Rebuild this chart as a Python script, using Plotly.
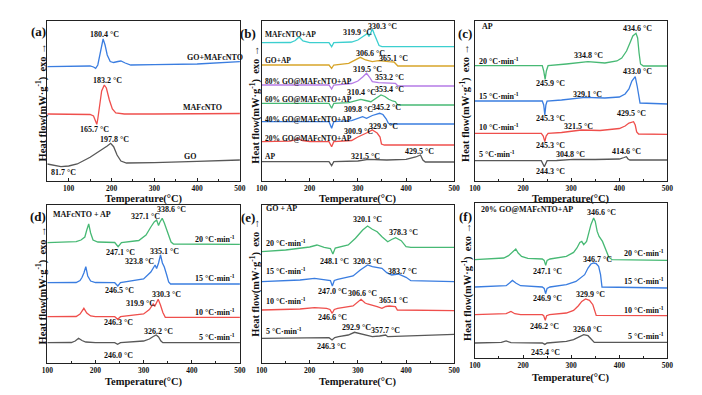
import plotly.graph_objects as go

# ---------------- data (temperature in °C, heat flow in arbitrary offset units) ----------------
# Panel (a)
A_GO_T = [50, 65, 82, 100, 120, 150, 175, 190, 198, 205, 213, 222, 235, 300, 400, 500]
A_GO_H = [17, 15.5, 14.3, 15, 17, 23.7, 30.3, 35, 37.7, 34.3, 26, 20, 18, 18.3, 19.7, 21]
A_MAF_T = [50, 100, 150, 158, 163, 165.7, 168, 172, 177, 183.2, 188, 195, 202, 210, 230, 300, 400, 500]
A_MAF_H = [67, 67, 66.5, 65, 60, 56.7, 62, 76, 90, 96, 93, 81, 72, 68, 67, 67, 67.3, 67.5]
A_GOMAF_T = [50, 100, 150, 158, 163, 168, 174, 180.4, 185, 190, 197, 205, 215, 222, 232, 245, 300, 400, 500]
A_GOMAF_H = [114.3, 114.5, 115, 114, 112.7, 116, 128, 142, 136, 126, 119.5, 118.5, 119.5, 120, 118, 116, 116.3, 117, 119.3]

# Panel (b)
B_AP_T = [100, 200, 240, 245.5, 250, 300, 321.5, 360, 400, 420, 430, 435, 440, 500]
B_AP_H = [19.3, 19.3, 19.3, 15.3, 19.3, 20, 21.7, 21, 21.7, 24, 26, 21, 19, 19]
B_20_T = [100, 160, 168, 175, 185, 200, 240, 245.5, 250, 287, 300, 310, 320, 329.9, 340, 346, 349, 355, 500]
B_20_H = [39.3, 39.8, 41, 42.5, 40.5, 39.5, 39.3, 34.3, 39.3, 40.5, 44, 46, 48.5, 51, 48, 44, 37, 36, 36]
B_40_T = [100, 200, 240, 245.5, 250, 287, 300, 309.8, 318, 330, 345.2, 352, 359, 363, 366, 375, 500]
B_40_H = [59.3, 59.3, 59.3, 52.7, 59.3, 60.3, 62.5, 64.3, 62.7, 65.5, 67.7, 66.5, 62, 58, 57, 57, 57]
B_60_T = [100, 200, 240, 245.5, 250, 281, 295, 306, 316, 327, 340, 348, 356, 364, 372, 378, 381, 384, 500]
B_60_H = [77.7, 77.7, 77.7, 72.7, 77.7, 78.3, 80, 81.7, 80.5, 79.3, 83.5, 86, 84.5, 81.7, 80, 79.3, 77, 76, 76]
B_80_T = [100, 200, 240, 245.5, 250, 287, 300, 310, 318, 324, 330, 343, 360, 378, 383, 500]
B_80_H = [96, 96, 96, 92, 96, 97.5, 100, 104, 107.7, 104, 99.3, 98.3, 98, 97.7, 95, 95]
B_GOAP_T = [100, 200, 240, 245.5, 250, 281, 295, 305, 316, 330, 343, 355, 364, 375, 380, 383, 500]
B_GOAP_H = [116, 116, 116, 112.7, 116, 117.7, 121, 123.7, 121, 119.3, 120.3, 119.5, 119.3, 119, 117, 115, 115]
B_MAFAP_T = [100, 160, 170, 178, 186, 200, 240, 245.5, 250, 287, 300, 310, 316.5, 319.9, 323, 326, 330.3, 334, 337, 341, 344, 350, 500]
B_MAFAP_H = [138.3, 138.5, 140.5, 144, 140, 138.3, 138.3, 134.3, 138.3, 139, 141, 144, 146, 147.5, 144.5, 148, 151.7, 147, 144, 139, 135.5, 134.3, 134.3]

# Panel (c)
C5_T = [100, 200, 238, 244.3, 250, 270, 304.8, 350, 400, 410, 414.6, 418, 422, 500]
C5_H = [20.3, 20.3, 20.3, 14.3, 20.3, 20.5, 21.7, 21.5, 22, 23.5, 24.3, 22, 21, 21]
C10_T = [100, 200, 238, 242, 245.3, 248, 252, 280, 321.5, 360, 400, 412, 420, 429.5, 433, 436, 440, 500]
C10_H = [47.7, 47.7, 47.7, 45, 39.3, 45, 47.7, 48.5, 51, 50.5, 52.5, 55, 58, 59.3, 56, 49, 47, 46.7]
C15_T = [100, 200, 240, 243, 245.3, 247.5, 250, 280, 329.1, 370, 400, 412, 420, 426, 433, 437, 440, 443, 500]
C15_H = [80, 80, 80, 76, 66, 76, 80, 81, 83.7, 83, 84, 87, 92, 100, 104.3, 95, 85, 78, 77]
C20_T = [100, 200, 240, 243, 245.9, 248.5, 252, 290, 334.8, 370, 395, 405, 415, 422, 428, 434.6, 438, 441, 444, 450, 500]
C20_H = [115.3, 115.3, 115.3, 110, 101.7, 110, 115.3, 117, 119.3, 118, 120, 123, 130, 138, 145, 147.7, 143, 128, 117, 115, 115]

# Panel (d)
D5_T = [100, 150, 158, 165, 172, 180, 200, 240, 246, 252, 300, 312, 320, 326.2, 331, 336, 340, 500]
D5_H = [20.3, 20.5, 22, 24.7, 22.5, 21, 20.3, 20.3, 18.7, 20.3, 22, 24, 26.5, 28, 26, 22, 20.3, 20.3]
D10_T = [100, 160, 168, 176, 182, 190, 200, 240, 246.3, 252, 300, 312, 319.9, 323, 326, 330.3, 335, 340, 345, 500]
D10_H = [46.3, 46.5, 49, 54.7, 50, 47, 46.3, 46.3, 43.7, 46.3, 49, 53.5, 59, 56.5, 59.5, 63.7, 58, 50.5, 45.7, 45.7]
D15_T = [100, 160, 168, 172, 176, 180, 184, 190, 200, 240, 246.5, 252, 300, 315, 323.8, 327, 331, 335.1, 339, 343, 348, 352, 356, 500]
D15_H = [80.3, 80.5, 82.5, 85.5, 90, 96.3, 87, 82, 80.5, 80.3, 77, 80.3, 84, 91, 98, 94.5, 100, 108, 100, 96, 88, 81, 79, 79]
D20_T = [100, 160, 170, 178, 182, 186, 190, 195, 205, 240, 247.1, 254, 290, 305, 315, 322, 327.1, 331, 334, 338.6, 343, 348, 352, 357, 362, 500]
D20_H = [120.3, 121.3, 123, 126, 133, 139, 130, 123, 121, 120.5, 116.3, 120.5, 122.5, 128, 136, 141, 143, 137.5, 141, 144.7, 140, 133, 126, 121, 119, 118.7]

# Panel (e)
E5_T = [100, 200, 240, 246.3, 252, 260, 280, 292.9, 310, 330, 345, 357.7, 362, 400, 500]
E5_H = [24.7, 25.3, 25.3, 23, 25.5, 26.3, 28, 30.7, 28.7, 26.3, 27, 28, 26.3, 27, 28.7]
E10_T = [100, 180, 210, 235, 242, 246.6, 251, 258, 290, 300, 306.6, 315, 320, 340, 350, 358, 365.1, 378, 382, 500]
E10_H = [53, 54, 55.3, 54.7, 53.5, 49.7, 53.5, 54.7, 57, 61, 63.7, 60, 59, 56.3, 54.7, 56.5, 57, 56.3, 53, 52.3]
E15_T = [100, 180, 210, 230, 243, 247, 251, 258, 290, 305, 320.3, 330, 350, 360, 370, 383.7, 400, 410, 500]
E15_H = [81.3, 83, 84.7, 83.7, 82.5, 77, 82.5, 83.7, 87, 93, 98, 96.3, 94.7, 90.3, 88, 89, 85.7, 82.3, 81.3]
E20_T = [100, 150, 200, 215, 230, 243, 248.1, 253, 280, 295, 310, 320.1, 330, 340, 350, 362, 370, 378.3, 390, 400, 410, 500]
E20_H = [111.3, 113, 116, 118, 115.7, 114.5, 109, 115, 118, 124.7, 133, 137, 133.7, 131.3, 126.3, 121.3, 123.5, 125.3, 122.3, 116.3, 115.7, 115.7]

# Panel (f)
F5_T = [100, 155, 165, 175, 240, 245.4, 250, 290, 305, 315, 326, 335, 342, 348, 500]
F5_H = [15, 15.6, 17, 15.3, 15, 13.6, 15, 16.6, 18.3, 21, 23.3, 22.3, 18.3, 15.6, 15.6]
F10_T = [100, 165, 175, 183, 195, 240, 243, 246.2, 249, 255, 290, 305, 315, 322, 329.9, 338, 345, 349, 352, 500]
F10_H = [43.3, 44.3, 46.6, 44.3, 43.3, 43.3, 42.3, 37.6, 42.3, 43.3, 45, 47.6, 52.3, 56.6, 59, 57.6, 53.3, 46.6, 42.6, 42.3]
F15_T = [100, 165, 172, 178, 185, 195, 240, 244, 246.9, 250, 256, 290, 310, 320, 328, 335, 341, 346.7, 352, 357, 361, 364, 500]
F15_H = [71, 72.3, 75, 77.6, 75, 72.3, 71, 69.6, 64.3, 69.6, 71, 73.3, 76.6, 80, 83.3, 90, 94, 95, 94.3, 91.6, 83.3, 71, 70]
F20_T = [100, 160, 170, 177, 185, 190, 197, 210, 240, 244, 247.1, 250, 256, 290, 305, 312, 318, 322, 326, 332, 337, 341, 346.6, 350, 354, 358, 365, 372, 378, 385, 500]
F20_H = [98.3, 100, 102.3, 105.6, 109, 105, 101.6, 99.6, 99, 97.6, 92.6, 97.6, 99, 101.6, 105.6, 110, 115.6, 116.6, 113.3, 116.6, 125, 133.3, 140, 136.6, 126.6, 121.6, 116.6, 108.3, 101, 98.3, 97.6]

# Peak labels: (text, temperature, height)
A_PEAK_LABELS = [("180.4 °C", 183, 146.7), ("183.2 °C", 191, 100), ("165.7 °C", 160, 51.7),
                 ("197.8 °C", 206, 41.7), ("81.7 °C", 88.5, 8.3)]
A_NAME_LABELS = [("GO+MAFcNTO", 441, 123.7), ("MAFcNTO", 411.5, 73.7), ("GO", 383, 24.3)]
B_PEAK_LABELS = [("330.3 °C", 350.3, 154.5), ("319.9 °C", 299.7, 148.7), ("306.6 °C", 326, 127.7),
                 ("365.1 °C", 374, 122.7), ("319.5 °C", 320, 111), ("353.2 °C", 365, 103.7),
                 ("310.4 °C", 308, 88), ("353.4 °C", 365, 91), ("309.8 °C", 301, 71),
                 ("345.2 °C", 359, 73.7), ("300.9 °C", 301, 49.5), ("329.9 °C", 353.7, 54.3),
                 ("321.5 °C", 316.5, 24.3), ("429.5 °C", 428, 29.3)]
B_NAMES = ["MAFcNTO+AP", "GO+AP", "80% GO@MAFcNTO+AP", "60% GO@MAFcNTO+AP",
           "40% GO@MAFcNTO+AP", "20% GO@MAFcNTO+AP", "AP"]
B_NAME_H = [146, 120, 99.3, 81, 61.7, 42.7, 24.3]
C_PEAK_LABELS = [("434.6 °C", 437.4, 152.7), ("334.8 °C", 336.7, 125), ("245.9 °C", 256.5, 97),
                 ("433.0 °C", 437.4, 109.3), ("329.1 °C", 333.3, 86), ("245.3 °C", 256.5, 62.7),
                 ("429.5 °C", 425, 67), ("321.5 °C", 316, 54.3), ("245.3 °C", 256.5, 35),
                 ("304.8 °C", 299.3, 26), ("414.6 °C", 415, 29.3), ("244.3 °C", 256.5, 9.3)]
D_PEAK_LABELS = [("338.6 °C", 357, 153.5), ("327.1 °C", 304.8, 147), ("247.1 °C", 251.7, 110.3),
                 ("335.1 °C", 343.5, 111.3), ("323.8 °C", 292.5, 101.3), ("246.5 °C", 250.3, 73),
                 ("330.3 °C", 347, 68.7), ("319.9 °C", 294, 59.7), ("246.3 °C", 248.3, 40.7),
                 ("326.2 °C", 330, 31.3), ("246.0 °C", 248.3, 8)]
E_PEAK_LABELS = [("320.1 °C", 320.3, 143.7), ("378.3 °C", 394.9, 130.7), ("248.1 °C", 250.5, 102),
                 ("320.3 °C", 320.3, 102), ("383.7 °C", 392.9, 91.3), ("247.0 °C", 247.1, 72),
                 ("306.6 °C", 310.2, 69.7), ("365.1 °C", 374.6, 62.3), ("246.6 °C", 247.1, 45.7),
                 ("292.9 °C", 296.6, 35.7), ("357.7 °C", 357.6, 32.3), ("246.3 °C", 245.8, 17)]
F_PEAK_LABELS = [("346.6 °C", 362.7, 145), ("247.1 °C", 251.8, 86.6), ("346.7 °C", 353.8, 98.3),
                 ("246.9 °C", 251.8, 59.3), ("329.9 °C", 340.2, 63.3), ("246.2 °C", 244.9, 31.6),
                 ("326.0 °C", 333.5, 28.3), ("245.4 °C", 246.9, 5.5)]
RATES = ["20", "15", "10", "5"]
C_RATE_H = [120.3, 85, 53.7, 27]
D_RATE_H = [123.7, 84.7, 51.3, 26.3]
E_RATE_H = [120.3, 92, 62.3, 32.3]
F_RATE_H = [105, 76.6, 48.3, 22.3]
PANEL_TITLES = {"c": "AP", "d": "MAFcNTO + AP", "e": "GO + AP", "f": "20% GO@MAFcNTO+AP"}
X_TICKS = [100, 200, 300, 400, 500]

# ---------------- styling / layout ----------------
W, HP = 702, 395
FONT = "Liberation Serif, Times New Roman, serif"
GRAY, RED, BLUE, GREEN = "#585858", "#ef4f4c", "#3a7de0", "#47b974"
CYAN, GOLD, PURPLE = "#3ccfcf", "#d7a52a", "#b57be6"

# box in pixels: left, top, right, bottom ; x range
PANELS = {
    "a": dict(box=(42, 21, 238, 181), xr=(50, 500), lab=(33, 32), yt=(36, 102), xt=199),
    "b": dict(box=(260, 21, 456, 181), xr=(100, 500), lab=(246, 33), yt=(253, 105), xt=199),
    "c": dict(box=(477, 21, 673, 181), xr=(100, 500), lab=(467, 33), yt=(467, 103), xt=199),
    "d": dict(box=(42, 205, 238, 363), xr=(100, 500), lab=(33, 216), yt=(36, 285), xt=382),
    "e": dict(box=(260, 205, 456, 363), xr=(100, 500), lab=(246, 217), yt=(253, 278), xt=382),
    "f": dict(box=(477, 203, 673, 358), xr=(100, 500), lab=(467, 216), yt=(469, 282), xt=378),
}
ORDER = ["a", "b", "c", "d", "e", "f"]

CURVES = {
    "a": [(A_GO_T, A_GO_H, GRAY), (A_MAF_T, A_MAF_H, RED), (A_GOMAF_T, A_GOMAF_H, BLUE)],
    "b": [(B_AP_T, B_AP_H, GRAY), (B_20_T, B_20_H, RED), (B_40_T, B_40_H, BLUE),
          (B_60_T, B_60_H, GREEN), (B_80_T, B_80_H, PURPLE), (B_GOAP_T, B_GOAP_H, GOLD),
          (B_MAFAP_T, B_MAFAP_H, CYAN)],
    "c": [(C5_T, C5_H, GRAY), (C10_T, C10_H, RED), (C15_T, C15_H, BLUE), (C20_T, C20_H, GREEN)],
    "d": [(D5_T, D5_H, GRAY), (D10_T, D10_H, RED), (D15_T, D15_H, BLUE), (D20_T, D20_H, GREEN)],
    "e": [(E5_T, E5_H, GRAY), (E10_T, E10_H, RED), (E15_T, E15_H, BLUE), (E20_T, E20_H, GREEN)],
    "f": [(F5_T, F5_H, GRAY), (F10_T, F10_H, RED), (F15_T, F15_H, BLUE), (F20_T, F20_H, GREEN)],
}

fig = go.Figure()
annotations = []


def bold(t):
    return "<b>" + t + "</b>"


for i, key in enumerate(ORDER, start=1):
    p = PANELS[key]
    l, t, r, b = p["box"]
    sfx = "" if i == 1 else str(i)
    xa, ya = "x" + sfx, "y" + sfx
    for T, H, col in CURVES[key]:
        fig.add_trace(go.Scatter(x=T, y=H, mode="lines", line=dict(color=col, width=1.3),
                                 xaxis=xa, yaxis=ya, showlegend=False, hoverinfo="skip"))
    fig.layout["xaxis" + sfx] = dict(
        domain=[l / W, r / W], anchor=ya, range=list(p["xr"]), tickvals=X_TICKS,
        ticks="inside", ticklen=3, tickwidth=1, tickcolor="#222",
        minor=dict(ticks="inside", ticklen=2, dtick=50, tickcolor="#222"),
        showline=True, mirror=True, linecolor="#222", linewidth=1, showgrid=False, zeroline=False,
        tickfont=dict(family=FONT, size=7.5, color="#111", weight="bold"), fixedrange=True)
    fig.layout["yaxis" + sfx] = dict(
        domain=[1 - b / HP, 1 - t / HP], anchor=xa, range=[0, b - t], showticklabels=False,
        ticks="", showline=True, mirror=True, linecolor="#222", linewidth=1, showgrid=False,
        zeroline=False, fixedrange=True)
    # panel letter
    annotations.append(dict(text=bold("(" + key + ")"), x=p["lab"][0] / W, y=1 - p["lab"][1] / HP,
                            xref="paper", yref="paper", showarrow=False,
                            xanchor="center", yanchor="middle",
                            font=dict(size=13, family=FONT, color="#111")))
    # y title
    annotations.append(dict(text=bold("Heat flow(mW·g<sup>-1</sup>)\u00a0\u00a0exo →"),
                            x=p["yt"][0] / W, y=1 - p["yt"][1] / HP, xref="paper", yref="paper",
                            textangle=-90, showarrow=False, xanchor="center", yanchor="middle",
                            font=dict(size=10.5, family=FONT, color="#111")))
    # x title
    annotations.append(dict(text=bold("Temperature(°C)"), x=(l + r) / 2 / W, y=1 - p["xt"] / HP,
                            xref="paper", yref="paper", showarrow=False,
                            xanchor="center", yanchor="middle",
                            font=dict(size=10.5, family=FONT, color="#111")))

LABFONT = dict(size=8, family=FONT, color="#111")


def add_lab(key, text, T, h, xanchor="center", size=8):
    i = ORDER.index(key) + 1
    sfx = "" if i == 1 else str(i)
    annotations.append(dict(text=bold(text), x=T, y=h, xref="x" + sfx, yref="y" + sfx,
                            xanchor=xanchor, yanchor="middle", showarrow=False,
                            font=dict(LABFONT, size=size)))


for txt, T, h in A_PEAK_LABELS + A_NAME_LABELS:
    add_lab("a", txt, T, h)
for txt, T, h in B_PEAK_LABELS:
    add_lab("b", txt, T, h)
for txt, h in zip(B_NAMES, B_NAME_H):
    add_lab("b", txt, 104, h, "left", 7.5)
for txt, T, h in C_PEAK_LABELS:
    add_lab("c", txt, T, h)
for txt, T, h in D_PEAK_LABELS:
    add_lab("d", txt, T, h)
for txt, T, h in E_PEAK_LABELS:
    add_lab("e", txt, T, h)
for txt, T, h in F_PEAK_LABELS:
    add_lab("f", txt, T, h)

RATE_POS = {"c": (C_RATE_H, 105, "left"), "d": (D_RATE_H, 494, "right"),
            "e": (E_RATE_H, 106, "left"), "f": (F_RATE_H, 497, "right")}
for key, (hs, T, anc) in RATE_POS.items():
    for rt, h in zip(RATES, hs):
        add_lab(key, rt + " °C·min<sup>-1</sup>", T, h, anc)

TITLE_POS = {"c": (110, 154.3), "d": (107, 149), "e": (106, 154.7), "f": (108, 148.3)}
for key, (T, h) in TITLE_POS.items():
    add_lab(key, PANEL_TITLES[key], T, h, "left")

fig.update_layout(width=W, height=HP, margin=dict(l=0, r=0, t=0, b=0),
                  paper_bgcolor="white", plot_bgcolor="white",
                  font=dict(family=FONT, color="#111"), annotations=annotations)

fig.write_html("out.html", config={"displayModeBar": False},
               post_script="document.body.style.margin='0';document.body.style.overflow='hidden';")
